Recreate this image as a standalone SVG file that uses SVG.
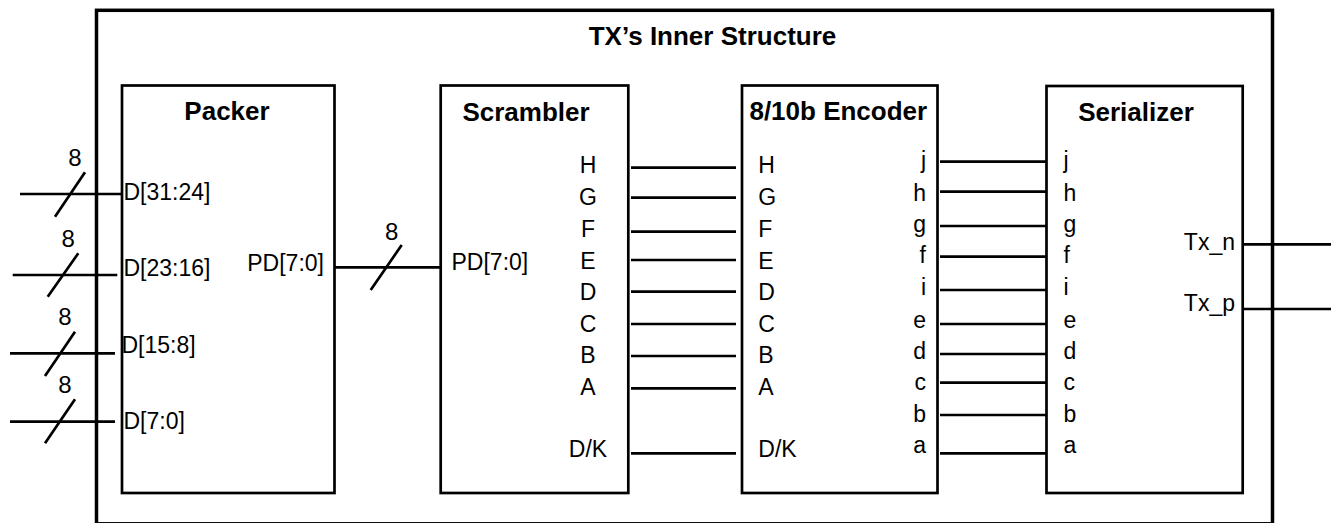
<svg xmlns="http://www.w3.org/2000/svg" width="1331" height="523" viewBox="0 0 1331 523">
  <style>
    text { font-family: "Liberation Sans", Arial, sans-serif; fill: #000; }
    .title { font-size: 26px; font-weight: bold; text-anchor: middle; }
    .lbl { font-size: 23px; }
    .mid { text-anchor: middle; }
    .end { text-anchor: end; }
    .bw { font-size: 24px; text-anchor: middle; }
    .outer { fill: none; stroke: #000; stroke-width: 3.5; }
    .box { fill: #fff; stroke: #000; stroke-width: 2.7; }
    .wire { stroke: #000; stroke-width: 2.7; fill: none; }
  </style>

  <!-- enclosing TX block -->
  <g id="tx">
    <rect class="outer" x="96.5" y="10.3" width="1176" height="513.5"/>
    <text class="title" x="712.5" y="45">TX’s Inner Structure</text>
  </g>

  <!-- Packer -->
  <g id="packer">
    <rect class="box" x="122" y="85.5" width="212.5" height="407.5"/>
    <text class="title" x="227" y="120">Packer</text>
    <text class="lbl" x="123.5" y="199.5">D[31:24]</text>
    <text class="lbl" x="123.5" y="275.5">D[23:16]</text>
    <text class="lbl" x="121.5" y="353">D[15:8]</text>
    <text class="lbl" x="123.5" y="428.5">D[7:0]</text>
    <text class="lbl end" x="324" y="271">PD[7:0]</text>
  </g>

  <!-- Scrambler -->
  <g id="scrambler">
    <rect class="box" x="440.7" y="85.5" width="187.6" height="407.5"/>
    <text class="title" x="526" y="120.7">Scrambler</text>
    <text class="lbl" x="451.5" y="269.5">PD[7:0]</text>
    <g class="lbl mid">
      <text x="588" y="173.3">H</text>
      <text x="588" y="205">G</text>
      <text x="588" y="237">F</text>
      <text x="588" y="269.3">E</text>
      <text x="588" y="300">D</text>
      <text x="588" y="332">C</text>
      <text x="588" y="363.3">B</text>
      <text x="588" y="395">A</text>
      <text x="588" y="456.7">D/K</text>
    </g>
  </g>

  <!-- 8b/10b encoder -->
  <g id="encoder">
    <rect class="box" x="742" y="85.5" width="195.5" height="407.5"/>
    <text class="title" x="838.3" y="119.5">8/10b Encoder</text>
    <g class="lbl">
      <text x="758.3" y="173.3">H</text>
      <text x="758.3" y="205">G</text>
      <text x="758.3" y="237">F</text>
      <text x="758.3" y="269.3">E</text>
      <text x="758.3" y="300">D</text>
      <text x="758.3" y="332">C</text>
      <text x="758.3" y="363.3">B</text>
      <text x="758.3" y="395">A</text>
      <text x="758.3" y="456.7">D/K</text>
    </g>
    <g class="lbl end">
      <text x="926" y="168">j</text>
      <text x="926" y="200.5">h</text>
      <text x="926" y="231.5">g</text>
      <text x="926" y="263">f</text>
      <text x="926" y="295">i</text>
      <text x="926" y="328">e</text>
      <text x="926" y="359">d</text>
      <text x="926" y="390">c</text>
      <text x="926" y="421.5">b</text>
      <text x="926" y="453">a</text>
    </g>
  </g>

  <!-- Serializer -->
  <g id="serializer">
    <rect class="box" x="1046.5" y="86" width="196.2" height="407"/>
    <text class="title" x="1136" y="120.7">Serializer</text>
    <g class="lbl">
      <text x="1063.5" y="168">j</text>
      <text x="1063.5" y="200.5">h</text>
      <text x="1063.5" y="231.5">g</text>
      <text x="1063.5" y="263">f</text>
      <text x="1063.5" y="295">i</text>
      <text x="1063.5" y="328">e</text>
      <text x="1063.5" y="359">d</text>
      <text x="1063.5" y="390">c</text>
      <text x="1063.5" y="421.5">b</text>
      <text x="1063.5" y="453">a</text>
    </g>
    <text class="lbl end" x="1235" y="250">Tx_n</text>
    <text class="lbl end" x="1235" y="310.5">Tx_p</text>
  </g>

  <!-- wires, bus slashes and bus widths -->
  <g id="connectors">
    <!-- 32-bit input split into four bytes -->
    <path class="wire" d="M20 194H122 M12.7 275H117.3 M10 353.3H115 M10 421.7H115"/>
    <path class="wire" d="M55 216.7L85 172.3 M47.7 296.7L78.3 253.3 M45 376L75 331.7 M45 443.3L75 399.3"/>
    <text class="bw" x="75" y="166">8</text>
    <text class="bw" x="68.3" y="246.7">8</text>
    <text class="bw" x="65" y="325">8</text>
    <text class="bw" x="65" y="392.7">8</text>

    <!-- packed byte to scrambler -->
    <path class="wire" d="M335 267.3H440 M370.7 290L401.7 245"/>
    <text class="bw" x="391.7" y="240">8</text>

    <!-- scrambler to encoder -->
    <path class="wire" d="M631 167.7H736 M631 197.7H736 M631 231.7H736 M631 260H736 M631 291.7H736 M631 324H736 M631 356H736 M631 388.3H736 M631 453.3H736"/>

    <!-- encoder to serializer -->
    <path class="wire" d="M940 161.7H1046 M940 191.7H1046 M940 226H1046 M940 256.7H1046 M940 290H1046 M940 324H1046 M940 354H1046 M940 382.7H1046 M940 415H1046 M940 453.3H1046"/>

    <!-- serial outputs -->
    <path class="wire" d="M1242.7 244.3H1331 M1242.7 309H1331"/>
  </g>
</svg>
